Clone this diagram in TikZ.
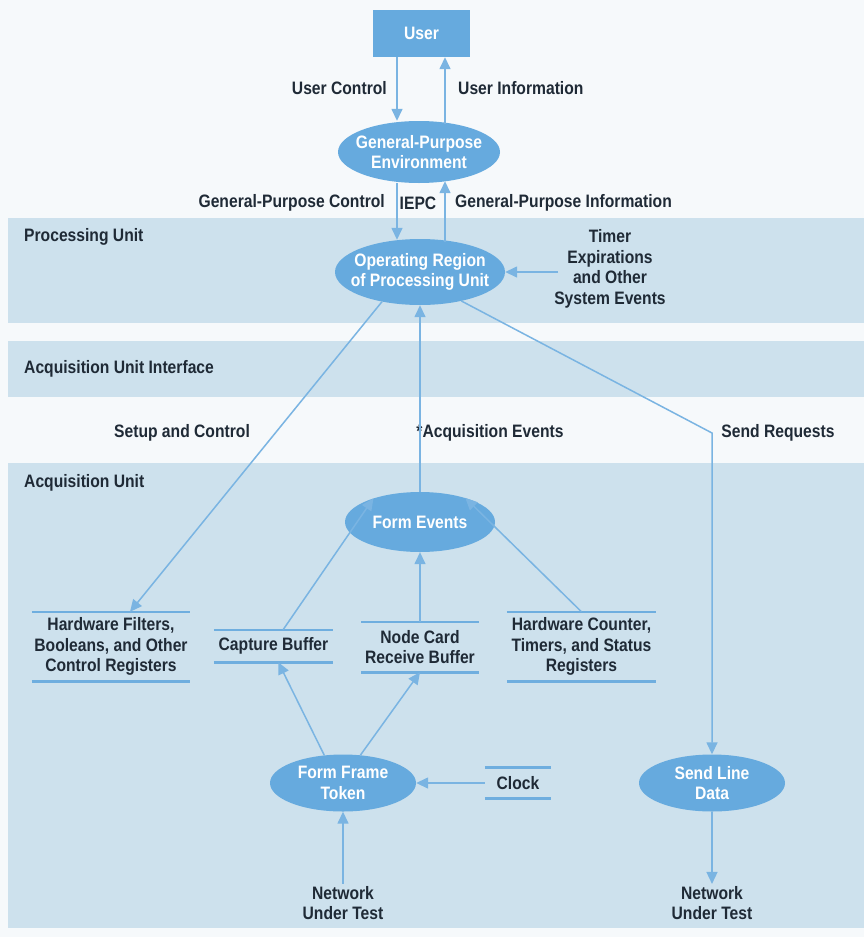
\documentclass[tikz,border=0pt]{standalone}
\usepackage{fontspec}
\setmainfont{Liberation Sans}[FakeStretch=0.87]
\usetikzlibrary{shapes.geometric,arrows.meta,calc}
\definecolor{bgc}{HTML}{F6F9FB}
\definecolor{bandc}{HTML}{CDE1ED}
\definecolor{ellc}{HTML}{66AADE}
\definecolor{arrc}{HTML}{7AB4E2}
\definecolor{storec}{HTML}{6FAEDF}
\definecolor{txt}{HTML}{1F2A36}
\tikzset{
  band/.style={fill=bandc, draw=none},
  proc/.style={ellipse, fill=ellc, draw=none, inner sep=0pt},
  ptext/.style={text=white, align=center, inner sep=0pt},
  userbox/.style={rectangle, fill=ellc, draw=none, text=white, minimum width=97pt, minimum height=47pt},
  store/.style={text=txt, align=center, inner sep=0pt},
  storeline/.style={draw=storec, line width=2.6pt},
  lbl/.style={text=txt, align=center, inner sep=2pt},
  arr/.style={draw=arrc, line width=1.5pt, -{Triangle[length=12pt,width=11pt]}},
}
\begin{document}
\begin{tikzpicture}[x=1pt,y=-1pt, font=\fontsize{18}{20.5}\selectfont\bfseries]
\useasboundingbox (0,0) rectangle (864,937);
\fill[bgc] (0,0) rectangle (864,937);
% bands
\fill[band] (8,218) rectangle (864,323);
\fill[band] (8,341) rectangle (864,397);
\fill[band] (8,463) rectangle (864,928);
\node[lbl, anchor=west] (lpu) at (22,237) {Processing Unit};
\node[lbl, anchor=west] (lau) at (22,369) {Acquisition Unit Interface};
\node[lbl, anchor=west] (lacq) at (22,483) {Acquisition Unit};

% process nodes
\node[userbox] (user) at (421.5,33.5) {User};
\node[proc, minimum width=162pt, minimum height=62pt] (gpe) at (419,152) {};
\node[ptext] (gpet) at (gpe) {General-Purpose\\Environment};
\node[proc, minimum width=170pt, minimum height=66pt] (op) at (420,272) {};
\node[ptext] (opt) at (op) {Operating Region\\of Processing Unit};
\node[proc, minimum width=150pt, minimum height=60pt] (fe) at (420,522) {};
\node[ptext] (fet) at (fe) {Form Events};
\node[proc, minimum width=146pt, minimum height=57pt] (fft) at (343,783) {};
\node[ptext] (fftt) at (fft) {Form Frame\\Token};
\node[proc, minimum width=146pt, minimum height=57pt] (sld) at (712,783) {};
\node[ptext] (sldt) at (sld) {Send Line\\Data};

% stores
\node[store, minimum width=158pt, minimum height=69pt] (hw) at (111,646.5) {Hardware Filters,\\Booleans, and Other\\Control Registers};
\node[store, minimum width=119pt, minimum height=32pt] (cb) at (273.5,646) {Capture Buffer};
\node[store, minimum width=117pt, minimum height=50pt] (nc) at (420,647) {Node Card\\Receive Buffer};
\node[store, minimum width=149pt, minimum height=69pt] (hc) at (581.5,646.5) {Hardware Counter,\\Timers, and Status\\Registers};
\node[store, minimum width=66pt, minimum height=31pt] (clk) at (518,783) {Clock};
\foreach \s in {hw,cb,nc,hc,clk}{
  \draw[storeline] (\s.north west) -- (\s.north east);
  \draw[storeline] (\s.south west) -- (\s.south east);
}

% free labels
\node[lbl, anchor=east] (luc) at (389,88) {User Control};
\node[lbl, anchor=west] (lui) at (456,88) {User Information};
\node[lbl, anchor=east] (lgpc) at (387,203) {General-Purpose Control};
\node[lbl] (liepc) at (418,203) {IEPC};
\node[lbl, anchor=west] (lgpi) at (453,203) {General-Purpose Information};
\node[lbl] (tim) at (610,269) {Timer\\Expirations\\and Other\\System Events};
\node[lbl] (lsc) at (182,433) {Setup and Control};
\node[lbl] (lae) at (490,433) {*Acquisition Events};
\node[lbl] (lsr) at (778,433) {Send Requests};
\node[lbl] (net1) at (343,903) {Network\\Under Test};
\node[lbl] (net2) at (712,903) {Network\\Under Test};

% helper coordinates
\coordinate (xa) at (397,0);
\coordinate (xb) at (445,0);
\coordinate (bend) at (712,433);

% connectors
\draw[arr] (user.south -| xa) -- (xa |- gpe.north);
\draw[arr] ($(xb |- gpe.north)+(0,3)$) -- (user.south -| xb);
\draw[arr] (gpe.south -| xa) -- ($(xa |- op.north)+(0,1)$);
\draw[arr] ($(xb |- op.north)+(0,3)$) -- ($(gpe.south -| xb)+(0,-2)$);
\draw[arr] ($(tim.west |- op.east)+(6,0)$) -- (op.east);
\draw[arr] (op.218) -- ($(hw.north west)!0.62!(hw.north east)$);
\draw[arr] (fe.north) -- (op.south);
\draw[arr] (op.325) -- (bend) -- (sld.north);
\draw[arr] ($(cb.north west)!0.58!(cb.north east)$) -- (fe.153);
\draw[arr] (nc.north) -- (fe.south);
\draw[arr] (hc.north) -- (fe.28);
\draw[arr] (fft.124) -- ($(cb.south west)!0.54!(cb.south east)$);
\draw[arr] (fft.58) -- (nc.south);
\draw[arr] (clk.west) -- (fft.east);
\draw[arr] (net1.north) -- (fft.south);
\draw[arr] (sld.south) -- (net2.north);
\end{tikzpicture}
\end{document}
